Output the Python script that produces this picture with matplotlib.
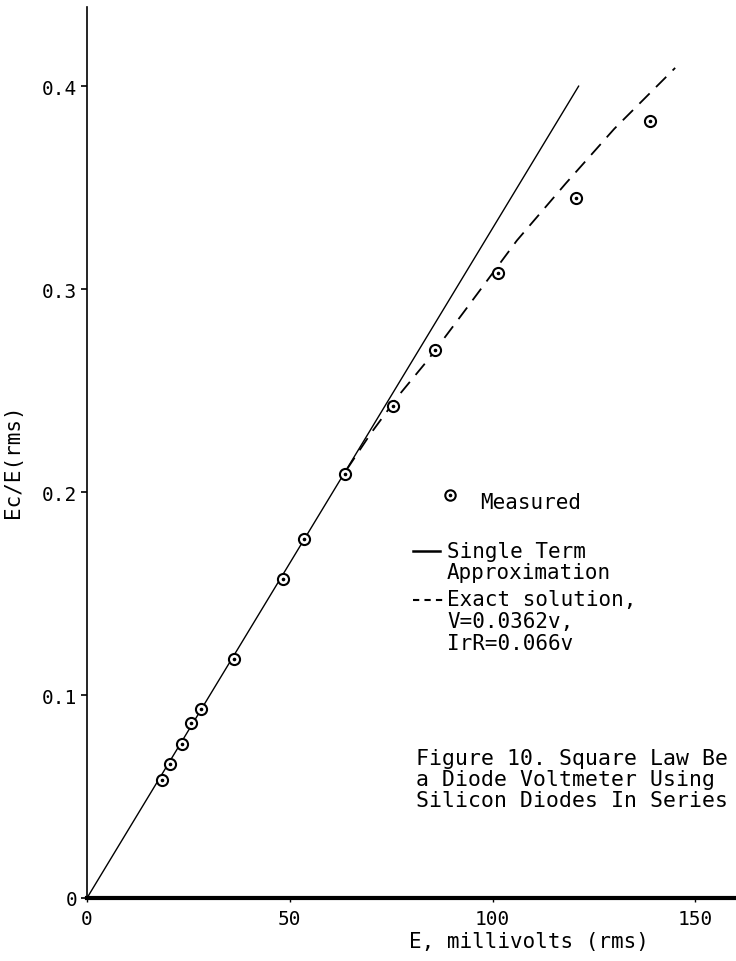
import matplotlib
matplotlib.use("Agg")
import matplotlib.pyplot as plt
from matplotlib.lines import Line2D

# ---- data ----
E_meas = [18.6, 20.5, 23.5, 25.7, 28.0, 36.3, 48.4, 53.4, 63.5, 75.4, 85.8, 101.4, 120.5, 138.7]
ratio_meas = [0.058, 0.066, 0.076, 0.086, 0.093, 0.118, 0.157, 0.177, 0.209, 0.2425, 0.270, 0.308, 0.345, 0.383]

E_single = [0, 121.2]
ratio_single = [0, 0.400]

E_exact = [64, 70, 77, 84, 93, 106, 118, 130, 145]
ratio_exact = [0.211, 0.229, 0.248, 0.265, 0.289, 0.324, 0.352, 0.379, 0.409]

x_ticks = [0, 50, 100, 150]
x_tick_labels = ["0", "50", "100", "150"]
y_ticks = [0, 0.1, 0.2, 0.3, 0.4]
y_tick_labels = ["0", "0.1", "0.2", "0.3", "0.4"]

legend_texts = ["Measured", "Single Term\nApproximation",
                "Exact solution,\nV=0.0362v,\nIrR=0.066v"]
caption = "Figure 10. Square Law Be\na Diode Voltmeter Using\nSilicon Diodes In Series"

FONT = "DejaVu Sans Mono"
W, H = 736, 962
fig = plt.figure(figsize=(W / 100, H / 100), dpi=100)
ax = fig.add_axes([87 / W, 63 / H, 649 / W, 891 / H])
ax.set_xlim(0, 160)
ax.set_ylim(0, 0.439)

ax.plot(E_single, ratio_single, color="black", lw=1.0)
ax.plot(E_exact, ratio_exact, color="black", lw=1.3, linestyle=(0, (8, 5)))
ax.plot(E_meas, ratio_meas, linestyle="none", marker="o", ms=8, mfc="white",
        mec="black", mew=1.5, zorder=5)
ax.plot(E_meas, ratio_meas, linestyle="none", marker="o", ms=1.6, mfc="black",
        mec="black", zorder=6)

for s in ["top", "right"]:
    ax.spines[s].set_visible(False)
ax.spines["left"].set_linewidth(1.2)
ax.spines["bottom"].set_linewidth(3.0)

ax.set_xticks(x_ticks)
ax.set_xticklabels(x_tick_labels, fontfamily=FONT, fontsize=14)
ax.set_yticks(y_ticks)
ax.set_yticklabels(y_tick_labels, fontfamily=FONT, fontsize=14)
ax.tick_params(axis="y", direction="out", length=4, width=1.2, pad=3)
ax.tick_params(axis="x", direction="out", length=3, width=1.0, pad=5)

ax.set_xlabel("E, millivolts (rms)", fontfamily=FONT, fontsize=15)
ax.xaxis.set_label_coords((529 - 87) / 649, (899 - 942) / 891)
ax.xaxis.label.set_va("center")
ax.set_ylabel("Ec/E(rms)", fontfamily=FONT, fontsize=15)
ax.yaxis.set_label_coords((23 - 87) / 649, (899 - 461) / 891)

def fx(px):
    return px / W

def fy(py):
    return 1 - py / H

# legend (manual, as in the reference)
fig.add_artist(Line2D([fx(450)], [fy(496)], marker="o", ms=7.5, mfc="white",
                      mec="black", mew=1.5, linestyle="none"))
fig.add_artist(Line2D([fx(450)], [fy(496)], marker="o", ms=1.6, mfc="black",
                      mec="black", linestyle="none"))
fig.text(fx(480), fy(503), legend_texts[0], fontfamily=FONT, fontsize=15,
         va="center", ha="left")
fig.add_artist(Line2D([fx(413), fx(440)], [fy(552), fy(552)], color="black", lw=1.8))
fig.text(fx(447), fy(542), legend_texts[1], fontfamily=FONT, fontsize=15,
         va="top", ha="left", linespacing=1.08)
fig.add_artist(Line2D([fx(413), fx(444)], [fy(601), fy(601)], color="black", lw=1.5,
                      linestyle=(0, (3, 2.5))))
fig.text(fx(447), fy(590), legend_texts[2], fontfamily=FONT, fontsize=15,
         va="top", ha="left", linespacing=1.12)

fig.text(fx(416), fy(749), caption, fontfamily=FONT, fontsize=15.5,
         va="top", ha="left", linespacing=1.05)

fig.savefig("out.png", dpi=100)
